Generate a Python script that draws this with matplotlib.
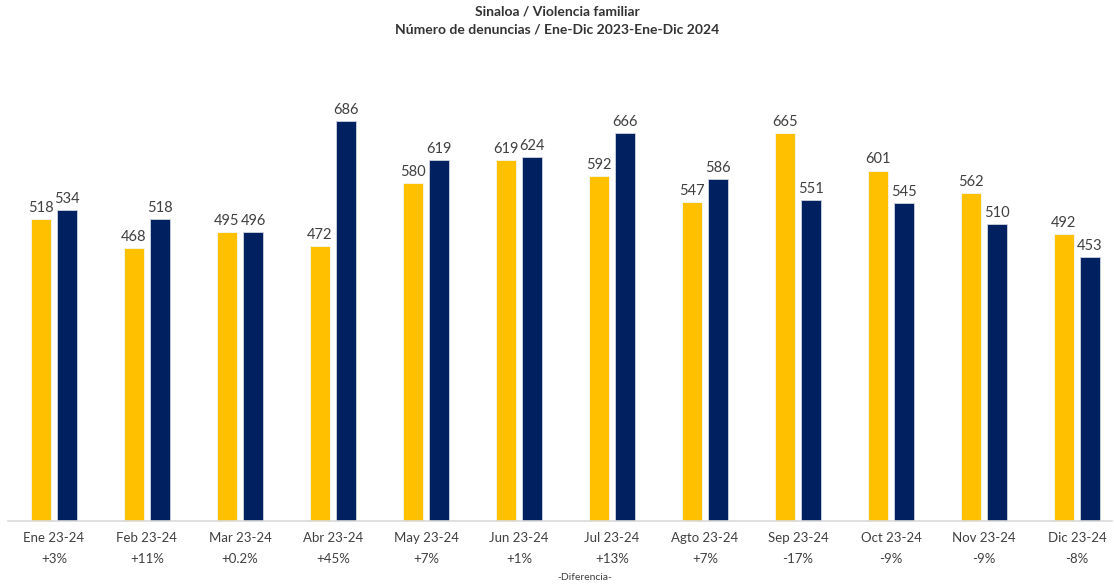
import numpy as np
import matplotlib
matplotlib.use("Agg")
import matplotlib.pyplot as plt
from matplotlib.transforms import blended_transform_factory

plt.rcParams['font.family'] = ['Lato', 'DejaVu Sans']

# Data
meses = ["Ene 23-24", "Feb 23-24", "Mar 23-24", "Abr 23-24", "May 23-24", "Jun 23-24",
         "Jul 23-24", "Agto 23-24", "Sep 23-24", "Oct 23-24", "Nov 23-24", "Dic 23-24"]
v2023 = [518, 468, 495, 472, 580, 619, 592, 547, 665, 601, 562, 492]
v2024 = [534, 518, 496, 686, 619, 624, 666, 586, 551, 545, 510, 453]
diferencia = ["+3%", "+11%", "+0.2%", "+45%", "+7%", "+1%",
              "+13%", "+7%", "-17%", "-9%", "-9%", "-8%"]

yellow = "#FFC000"
navy = "#002060"
txt = "#404040"

fig = plt.figure(figsize=(11.14, 5.87), dpi=100)
W, H = 1114, 587
left_px, right_px, base_px, top_px = 8, 1112, 521, 60
ax = fig.add_axes([left_px / W, (H - base_px) / H,
                   (right_px - left_px) / W, (base_px - top_px) / H])

x = np.arange(len(meses))
w = 0.215
off = 0.14
b1 = ax.bar(x - off, v2023, w, color=yellow, edgecolor="#f5f5f5", linewidth=0.6)
b2 = ax.bar(x + off, v2024, w, color=navy, edgecolor="#d0d4e0", linewidth=0.6)

for bars, vals in ((b1, v2023), (b2, v2024)):
    for r, v in zip(bars, vals):
        ax.annotate(str(v), (r.get_x() + r.get_width() / 2, v), xytext=(0, 3),
                    textcoords="offset points", ha="center", va="bottom",
                    fontsize=10.5, color=txt)

ax.set_xlim(-(54 - left_px) / 93, 11 + (right_px - 1077) / 93)
ax.set_ylim(0, (base_px - top_px) / 0.583)

for s in ("top", "right", "left"):
    ax.spines[s].set_visible(False)
ax.spines["bottom"].set_color("#d9d9d9")
ax.spines["bottom"].set_linewidth(1.2)
ax.set_yticks([])
ax.set_xticks(x)
ax.set_xticklabels(meses, fontsize=9.5, color=txt)
ax.tick_params(axis="x", length=0, pad=8)

trans = blended_transform_factory(ax.transData, fig.transFigure)
for i, d in enumerate(diferencia):
    ax.text(i, 1 - 559 / H, d, transform=trans, ha="center", va="center",
            fontsize=9.5, color=txt)

fig.text(585 / W, 1 - 578 / H, "-Diferencia-", ha="center", va="center",
         fontsize=7.5, color=txt)

fig.text(0.5, 1 - 11 / H, "Sinaloa / Violencia familiar", ha="center", va="center",
         fontsize=10, fontweight="bold", color="#333333")
fig.text(0.5, 1 - 30 / H, "Número de denuncias / Ene-Dic 2023-Ene-Dic 2024", ha="center",
         va="center", fontsize=10, fontweight="bold", color="#333333")

fig.savefig("out.png", dpi=100)
